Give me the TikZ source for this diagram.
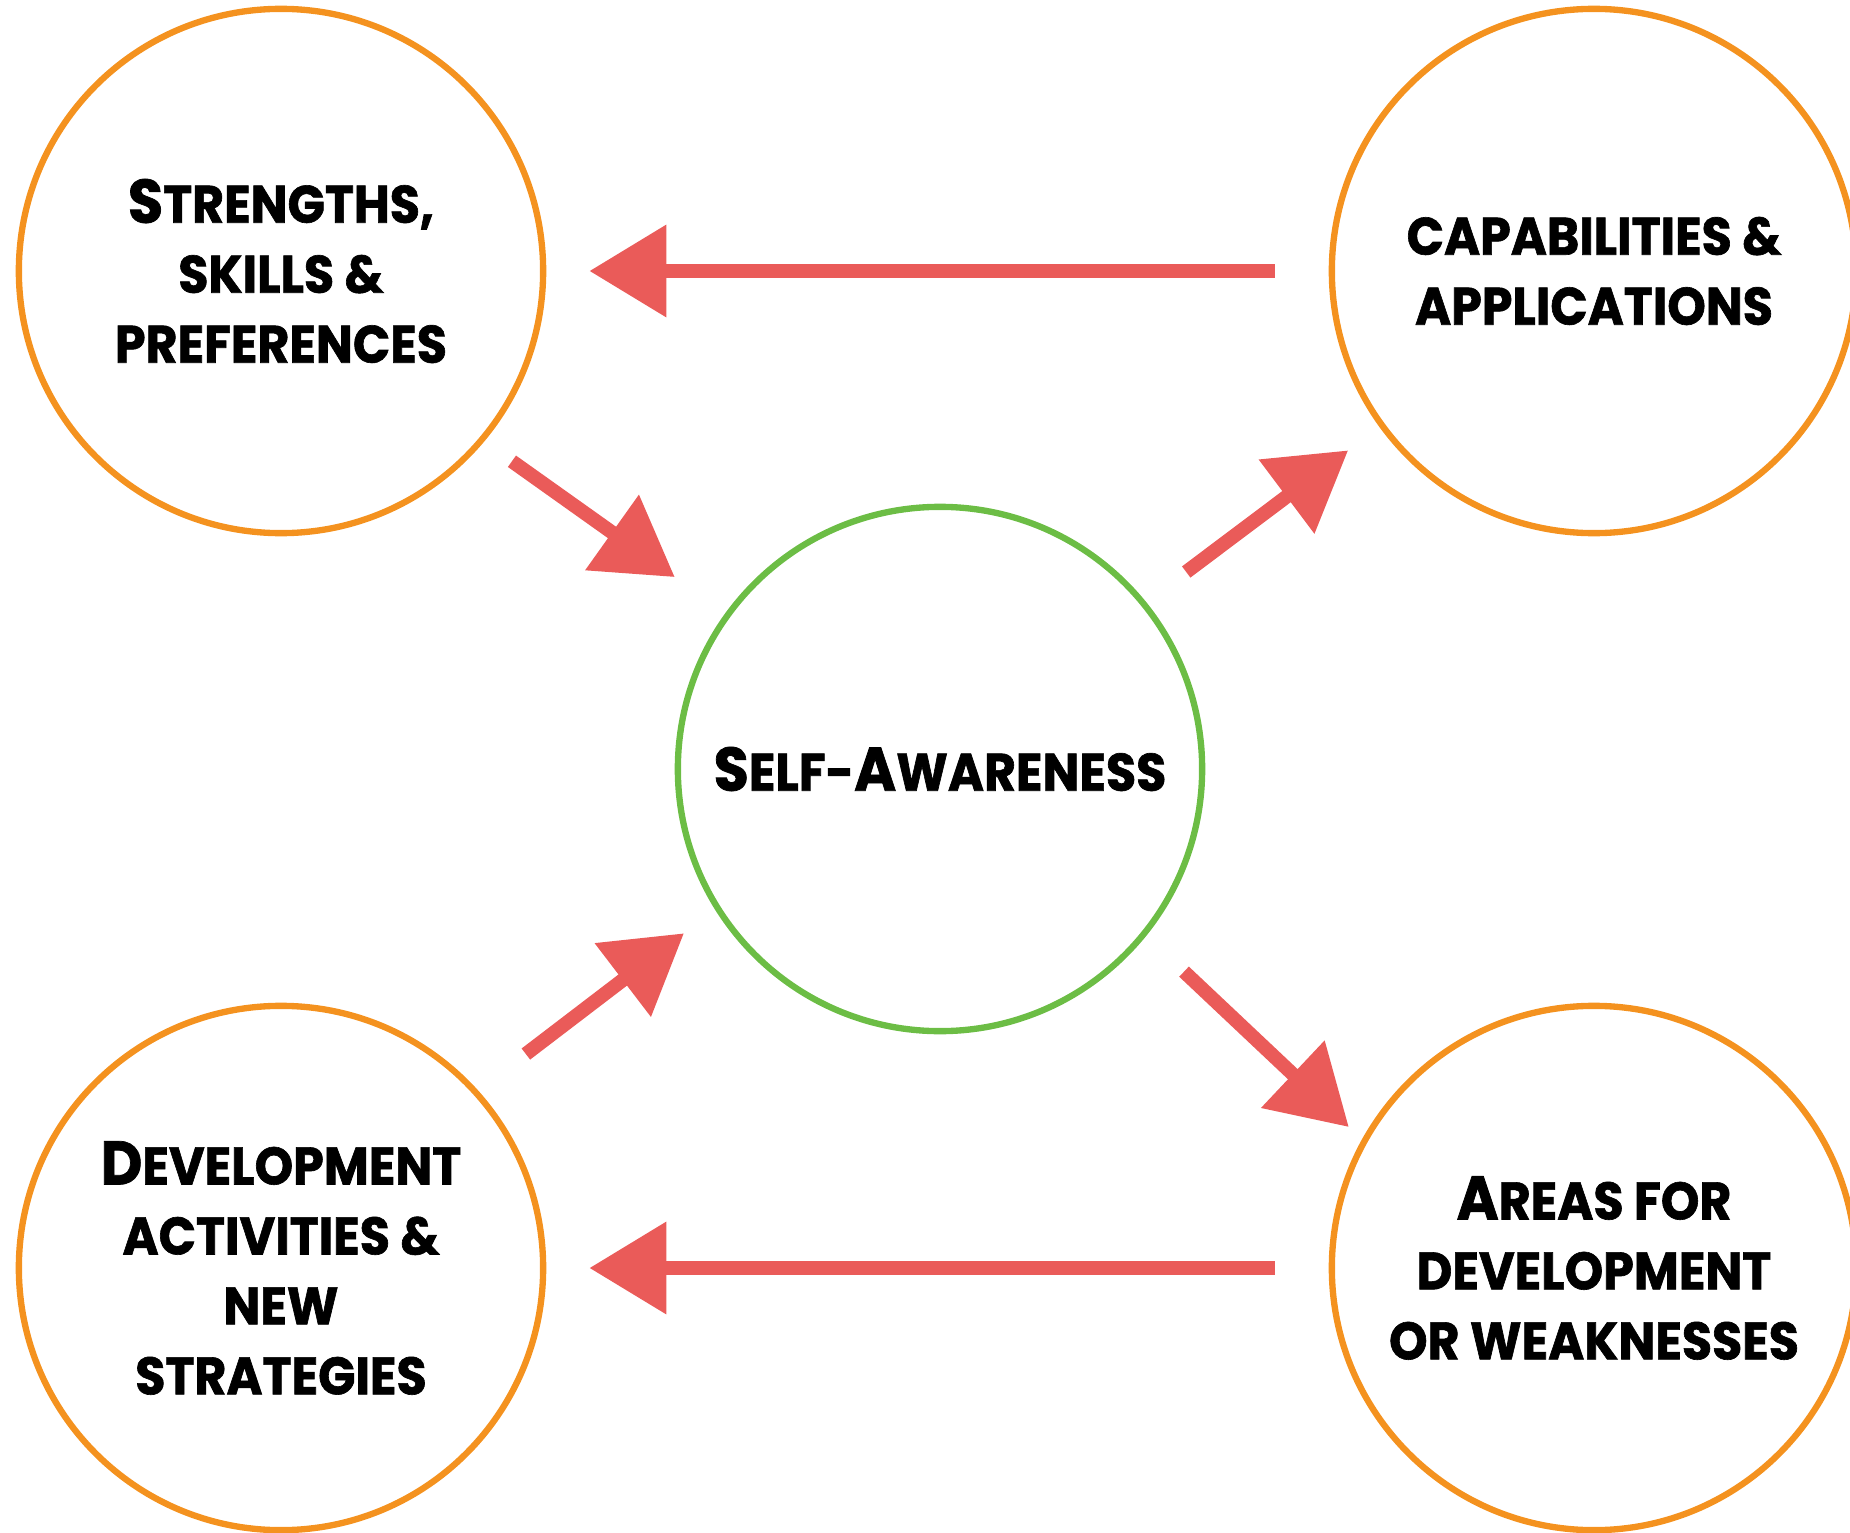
\documentclass[tikz,border=0pt]{standalone}
\usepackage{fontspec}
\setmainfont{Poppins}[FakeStretch=0.93, BoldFeatures={FakeBold=1.2}]
\usetikzlibrary{arrows.meta}
\definecolor{ringorange}{HTML}{F4921F}
\definecolor{ringgreen}{HTML}{6CBD45}
\definecolor{arrowred}{HTML}{EA5B59}
\newcommand\Ini[1]{{\fontsize{17.5}{19.9}\selectfont #1}}
\tikzset{
  ring/.style={circle, draw=ringorange, line width=1.8pt, minimum size=5.24cm,
    inner sep=0pt, align=center, font=\fontsize{15}{19.9}\selectfont\bfseries},
  hub/.style={ring, draw=ringgreen},
  flow/.style={-{Triangle[length=0.77cm,width=0.89cm]}, draw=arrowred,
    line width=0.14cm},
}
\begin{document}
\begin{tikzpicture}[x=0.01cm,y=-0.01cm]
  \useasboundingbox (0,0) rectangle (1850,1533);
  \node[ring] (str) at (281,271) {\Ini{S}TRENGTHS,\\ SKILLS \&\\ PREFERENCES};
  \node[ring] (cap) at (1594,271) {CAPABILITIES \&\\ APPLICATIONS};
  \node[hub] (self) at (940,769) {\Ini{S}ELF-\Ini{A}WARENESS};
  \node[ring] (dev) at (281,1268) {\Ini{D}EVELOPMENT\\ ACTIVITIES \&\\ NEW\\ STRATEGIES};
  \node[ring] (weak) at (1594,1268) {\Ini{A}REAS FOR\\ DEVELOPMENT\\ OR WEAKNESSES};
  % arrows
  \draw[flow, shorten <=0.54cm, shorten >=0.43cm] (cap) -- (str);
  \draw[flow, shorten <=0.34cm, shorten >=0.62cm] (str.-40) -- (self.144);
  \draw[flow, shorten <=0.5cm, shorten >=0.39cm] (self.39) -- (cap.216);
  \draw[flow, shorten <=0.6cm, shorten >=0.39cm] (dev.42) -- (self.212);
  \draw[flow, shorten <=0.52cm, shorten >=0.18cm] (self.-39) -- (weak.151);
  \draw[flow, shorten <=0.54cm, shorten >=0.43cm] (weak) -- (dev);
\end{tikzpicture}
\end{document}
